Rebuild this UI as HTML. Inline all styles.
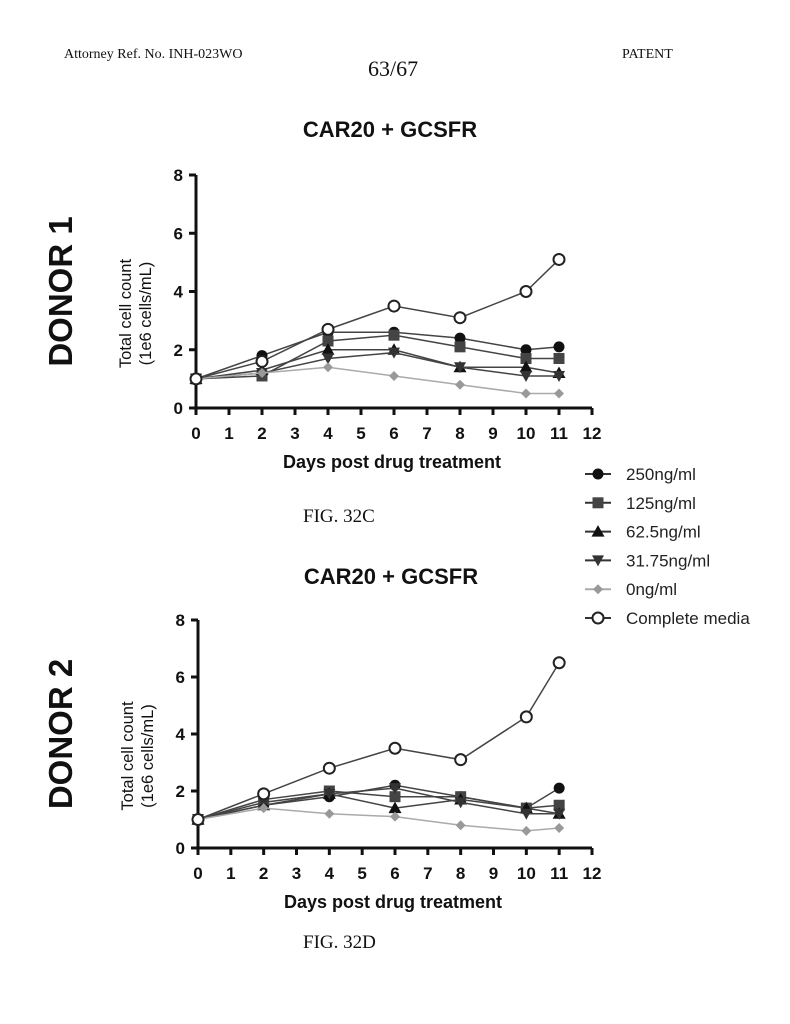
<!DOCTYPE html>
<html><head><meta charset="utf-8"><style>
html,body{margin:0;padding:0;background:#fff;}
body{width:790px;height:1024px;position:relative;overflow:hidden;font-family:"Liberation Sans",sans-serif;}
.serif{font-family:"Liberation Serif",serif;position:absolute;color:#111;}
</style></head><body>
<div class="serif" style="left:64px;top:47px;font-size:14px;">Attorney Ref. No. INH-023WO</div>
<div class="serif" style="left:368px;top:56px;font-size:22px;">63/67</div>
<div class="serif" style="left:622px;top:47px;font-size:14px;">PATENT</div>
<div class="serif" style="left:303px;top:506px;font-size:19px;">FIG. 32C</div>
<div class="serif" style="left:303px;top:932px;font-size:19px;">FIG. 32D</div>
<svg id="svg" width="790" height="1024" style="position:absolute;left:0;top:0"></svg>
<script>
const days=[0,2,4,6,8,10,11];
const seriesNames=["250ng/ml","125ng/ml","62.5ng/ml","31.75ng/ml","0ng/ml","Complete media"];
const d1_250=[1,1.8,2.6,2.6,2.4,2.0,2.1];
const d1_125=[1,1.1,2.3,2.5,2.1,1.7,1.7];
const d1_625=[1,1.3,2.0,2.0,1.4,1.4,1.2];
const d1_3175=[1,1.2,1.7,1.9,1.4,1.1,1.1];
const d1_0=[1,1.2,1.4,1.1,0.8,0.5,0.5];
const d1_cm=[1,1.6,2.7,3.5,3.1,4.0,5.1];
const d2_250=[1,1.5,1.8,2.2,1.8,1.4,2.1];
const d2_125=[1,1.7,2.0,1.8,1.8,1.4,1.5];
const d2_625=[1,1.5,1.9,1.4,1.7,1.4,1.2];
const d2_3175=[1,1.6,1.9,2.1,1.6,1.2,1.2];
const d2_0=[1,1.4,1.2,1.1,0.8,0.6,0.7];
const d2_cm=[1,1.9,2.8,3.5,3.1,4.6,6.5];
const xTicks=[0,1,2,3,4,5,6,7,8,9,10,11,12];
const yTicks=[0,2,4,6,8];
const NS="http://www.w3.org/2000/svg";
const svg=document.getElementById('svg');
function mk(tag,attrs,parent){const e=document.createElementNS(NS,tag);for(const k in attrs)e.setAttribute(k,attrs[k]);(parent||svg).appendChild(e);return e;}
const styles=[{m:'circle',c:'#111'},{m:'square',c:'#444'},{m:'tri',c:'#111'},{m:'itri',c:'#333'},{m:'diamond',c:'#999'},{m:'open',c:'#222'}];
function marker(g,type,x,y,col){
 let e;
 if(type==='circle')e=mk('circle',{cx:x,cy:y,r:5.5,fill:col},g);
 else if(type==='square')e=mk('rect',{x:x-5.5,y:y-5.5,width:11,height:11,fill:col},g);
 else if(type==='tri')e=mk('polygon',{points:`${x},${y-6.5} ${x-6.5},${y+5} ${x+6.5},${y+5}`,fill:col},g);
 else if(type==='itri')e=mk('polygon',{points:`${x},${y+6} ${x-6},${y-5} ${x+6},${y-5}`,fill:col},g);
 else if(type==='diamond')e=mk('polygon',{points:`${x},${y-5} ${x+5},${y} ${x},${y+5} ${x-5},${y}`,fill:col},g);
 else e=mk('circle',{cx:x,cy:y,r:5.5,fill:'#fff',stroke:col,'stroke-width':2},g);
 return e;
}
function chart(id,x0,x1,y0,y8,title,titleY,donor,data){
 const g=mk('g',{});
 
 
 const sx=v=>x0+(x1-x0)*v/12, sy=v=>y0+(y8-y0)*v/8;
 const t=mk('text',{x:(x0+x1)/2-4,y:titleY,'font-size':22,'font-weight':'bold','text-anchor':'middle',fill:'#111'},g);t.textContent=title;
 
 const dn=mk('text',{x:0,y:0,'font-size':33,'font-weight':'bold','text-anchor':'middle',fill:'#111',transform:`translate(72,${(y0+y8)/2}) rotate(-90)`},g);dn.textContent=donor;
 
 mk('line',{x1:x0,y1:y0,x2:x0,y2:y8,stroke:'#111','stroke-width':3},g);
 mk('line',{x1:x0-1.5,y1:y0,x2:x1,y2:y0,stroke:'#111','stroke-width':3},g);
 xTicks.forEach(v=>{mk('line',{x1:sx(v),y1:y0,x2:sx(v),y2:y0+7,stroke:'#111','stroke-width':3},g);
  const l=mk('text',{x:sx(v),y:y0+31,'font-size':17,'font-weight':'bold','text-anchor':'middle',fill:'#111'},g);l.textContent=v;
  });
 yTicks.forEach(v=>{mk('line',{x1:x0-7,y1:sy(v),x2:x0,y2:sy(v),stroke:'#111','stroke-width':3},g);
  const l=mk('text',{x:x0-13,y:sy(v)+6,'font-size':17,'font-weight':'bold','text-anchor':'end',fill:'#111'},g);l.textContent=v;
  });
 const xt=mk('text',{x:(x0+x1)/2-2,y:y0+60,'font-size':18,'font-weight':'bold','text-anchor':'middle',fill:'#111'},g);xt.textContent='Days post drug treatment';
 
 const yt=mk('text',{x:0,y:0,'font-size':16.5,'text-anchor':'middle',fill:'#111',transform:`translate(${x0-65},${(y0+y8)/2+22}) rotate(-90)`},g);
 
 const a=mk('tspan',{x:0,dy:0},yt);a.textContent='Total cell count';
 const b=mk('tspan',{x:0,dy:20},yt);b.textContent='(1e6 cells/mL)';
 data.forEach((arr,i)=>{
  const s=styles[i];
  const sg=mk('g',{},g);
  
  
  mk('polyline',{points:arr.map((v,j)=>sx(days[j])+','+sy(v)).join(' '),fill:'none',stroke:s.c==='#999'?'#aaa':'#444','stroke-width':1.5},sg);
  arr.forEach((v,j)=>{const m=marker(sg,s.m,sx(days[j]),sy(v),s.c);
   });
 });
}
chart('chart-donor-1',196,592,408,175,'CAR20 + GCSFR',137,'DONOR 1',[d1_250,d1_125,d1_625,d1_3175,d1_0,d1_cm]);
chart('chart-donor-2',198,592,848,620,'CAR20 + GCSFR',584,'DONOR 2',[d2_250,d2_125,d2_625,d2_3175,d2_0,d2_cm]);
const lg=mk('g',{});


seriesNames.forEach((n,i)=>{
 const y=474+i*28.8, s=styles[i];
 const e=mk('g',{},lg);
 
 
 mk('line',{x1:585,y1:y,x2:611,y2:y,stroke:s.c==='#999'?'#aaa':'#333','stroke-width':2},e);
 marker(e,s.m,598,y,s.c);
 const t=mk('text',{x:626,y:y+6,'font-size':17,fill:'#222'},e);t.textContent=n;
});
</script>
</body></html>
